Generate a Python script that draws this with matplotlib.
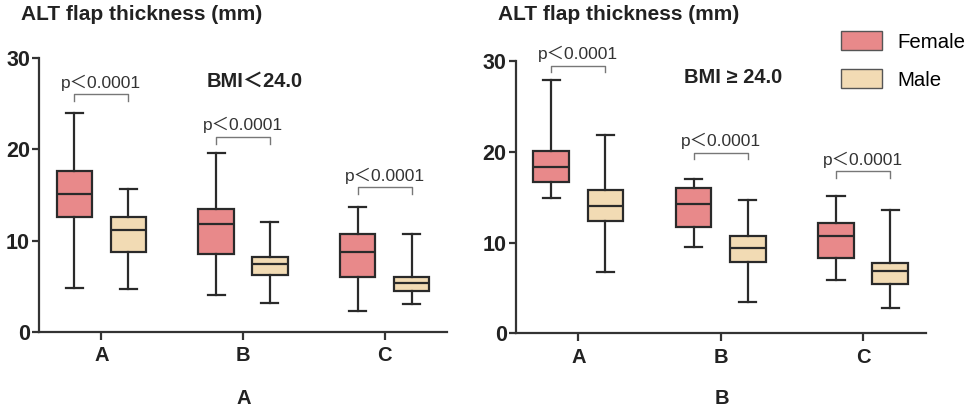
import matplotlib
matplotlib.use("Agg")
import matplotlib.pyplot as plt
from matplotlib.patches import Patch

plt.rcParams['font.family'] = ['Liberation Sans', 'Noto Sans CJK SC', 'DejaVu Sans']

categories = ["A", "B", "C"]
groups = ["Female", "Male"]
panel_labels = ["A", "B"]
panel_titles = ["BMI\uff1c24.0", "BMI \u2265 24.0"]
p_text = "p\uff1c0.0001"

# Panel A (BMI < 24.0)
a_female_min = [4.8, 4.0, 2.3]
a_female_q1 = [12.6, 8.5, 6.0]
a_female_med = [15.1, 11.8, 8.8]
a_female_q3 = [17.6, 13.5, 10.7]
a_female_max = [24.0, 19.6, 13.65]
a_male_min = [4.7, 3.2, 3.0]
a_male_q1 = [8.7, 6.2, 4.5]
a_male_med = [11.2, 7.4, 5.3]
a_male_q3 = [12.6, 8.2, 6.05]
a_male_max = [15.7, 12.0, 10.7]
a_bracket = [26.1, 21.4, 15.9]

# Panel B (BMI >= 24.0)
b_female_min = [14.9, 9.5, 5.9]
b_female_q1 = [16.7, 11.7, 8.3]
b_female_med = [18.35, 14.2, 10.7]
b_female_q3 = [20.1, 16.05, 12.2]
b_female_max = [27.9, 17.0, 15.1]
b_male_min = [6.7, 3.4, 2.75]
b_male_q1 = [12.4, 7.9, 5.4]
b_male_med = [14.0, 9.4, 6.9]
b_male_q3 = [15.8, 10.7, 7.7]
b_male_max = [21.9, 14.65, 13.6]
b_bracket = [29.5, 19.9, 17.9]

female_color = "#E8898A"
male_color = "#F2DBB4"
edge = "#2a2a2a"

fig = plt.figure(figsize=(9.72, 4.09), dpi=100)
W, H = 972, 409

def add_ax(x0, x1, ytop, ybot):
    return fig.add_axes([x0 / W, 1 - ybot / H, (x1 - x0) / W, (ybot - ytop) / H])

ax1 = add_ax(39, 447, 58.3, 331.7)
ax2 = add_ax(515.7, 925.7, 61, 333.3)

def stats(mn, q1, med, q3, mx):
    return [dict(whislo=a, q1=b, med=c, q3=d, whishi=e, fliers=[])
            for a, b, c, d, e in zip(mn, q1, med, q3, mx)]

def draw(ax, fem, mal, brackets, title, tx, ty):
    off = 0.19
    pos = list(range(len(categories)))
    for st, sign, col in ((fem, -1, female_color), (mal, 1, male_color)):
        ax.bxp(st, positions=[p + sign * off for p in pos], widths=0.25,
               capwidths=0.12, patch_artist=True, showfliers=False,
               boxprops=dict(facecolor=col, edgecolor=edge, linewidth=1.6),
               medianprops=dict(color=edge, linewidth=1.6),
               whiskerprops=dict(color=edge, linewidth=1.6),
               capprops=dict(color=edge, linewidth=1.6))
    for p, by in zip(pos, brackets):
        ax.plot([p - off, p - off, p + off, p + off], [by - 0.75, by, by, by - 0.75],
                color="#777777", linewidth=1.0, clip_on=False)
        ax.annotate(p_text, xy=(p, by), xytext=(0, 4.5), textcoords="offset points",
                    ha="center", va="baseline", fontsize=12.5, color="#333333",
                    annotation_clip=False)
    ax.text(tx, ty, title, ha="center", va="center", fontsize=14.5,
            fontweight="bold", color="#222222")
    ax.set_xlim(-0.44, 2.44)
    ax.set_ylim(0, 30)
    ax.set_yticks([0, 10, 20, 30])
    ax.set_xticks(pos)
    ax.set_xticklabels(categories)
    for s in ("top", "right"):
        ax.spines[s].set_visible(False)
    for s in ("left", "bottom"):
        ax.spines[s].set_linewidth(1.6)
        ax.spines[s].set_color("#333333")
    ax.tick_params(axis="y", length=5, width=1.6, pad=1.5, labelsize=15.5, colors="#333333")
    ax.tick_params(axis="x", length=6, width=1.6, pad=4.5, labelsize=14.5, colors="#333333")
    for lab in ax.get_xticklabels() + ax.get_yticklabels():
        lab.set_fontweight("bold")
        lab.set_color("#222222")
    ax.set_facecolor("none")

draw(ax1, stats(a_female_min, a_female_q1, a_female_med, a_female_q3, a_female_max),
     stats(a_male_min, a_male_q1, a_male_med, a_male_q3, a_male_max),
     a_bracket, panel_titles[0], 1.085, 27.5)
draw(ax2, stats(b_female_min, b_female_q1, b_female_med, b_female_q3, b_female_max),
     stats(b_male_min, b_male_q1, b_male_med, b_male_q3, b_male_max),
     b_bracket, panel_titles[1], 1.09, 28.2)

for x in (21, 498.3):
    fig.text(x / W, 1 - 15 / H, "ALT flap thickness (mm)", ha="left", va="center",
             fontsize=15, fontweight="bold", color="#222222")

fig.text(244 / W, 1 - 398 / H, panel_labels[0], ha="center", va="center",
         fontsize=14.5, fontweight="bold", color="#222222")
fig.text(722 / W, 1 - 398 / H, panel_labels[1], ha="center", va="center",
         fontsize=14.5, fontweight="bold", color="#222222")

handles = [Patch(facecolor=female_color, edgecolor="#555555", linewidth=1.0),
           Patch(facecolor=male_color, edgecolor="#555555", linewidth=1.0)]
fig.legend(handles, groups, loc="upper left", bbox_to_anchor=(840.7 / W, 1 - 31.5 / H),
           frameon=False, fontsize=14.7, handlelength=2.04, handleheight=1.05,
           handletextpad=0.75, labelspacing=0.85, borderpad=0, borderaxespad=0)

fig.savefig("out.png", dpi=100)
